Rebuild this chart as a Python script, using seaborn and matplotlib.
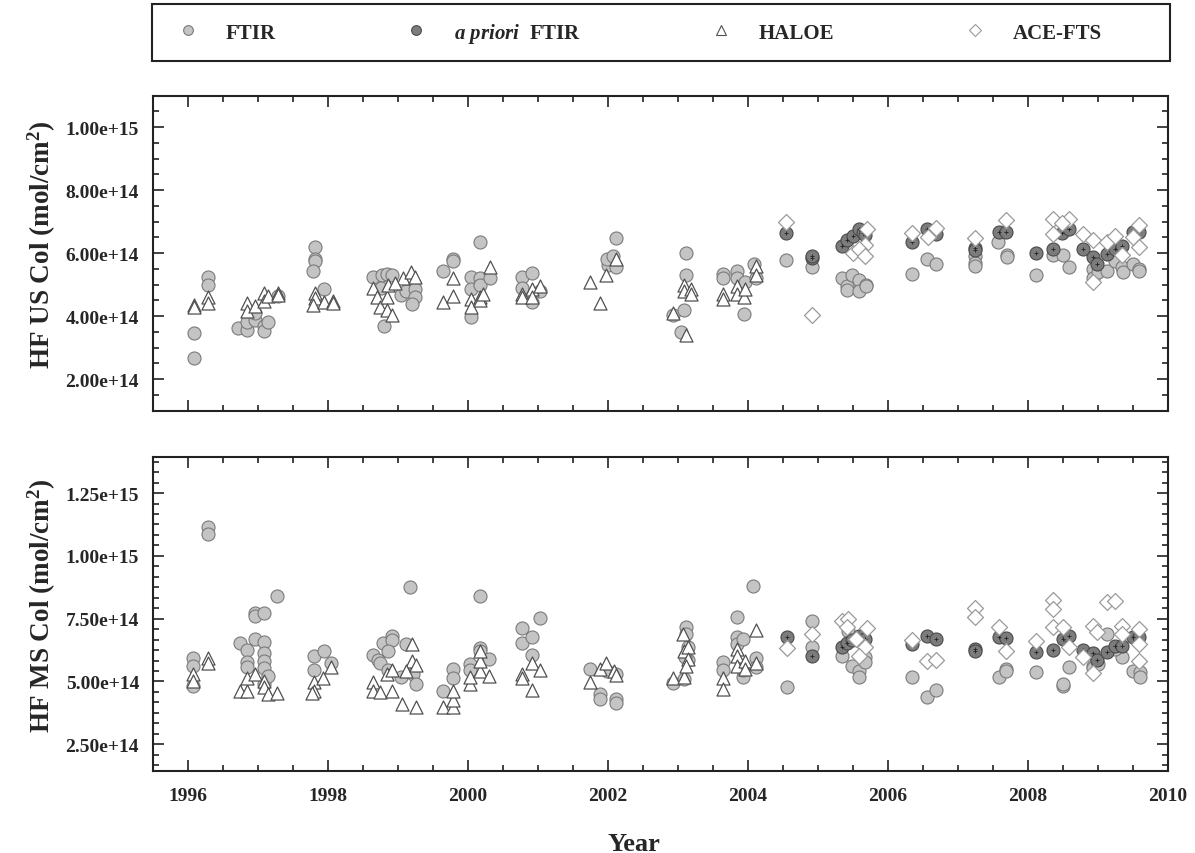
import numpy as np
import matplotlib
matplotlib.use("Agg")
import matplotlib.pyplot as plt
import seaborn as sns
from matplotlib.ticker import FixedLocator, MultipleLocator, FuncFormatter
from matplotlib.lines import Line2D
from matplotlib.patches import Rectangle

# ---------------- data (values in 1e14 molec/cm2) ----------------
# Upper stratosphere (US) panel
us_ftir_x = [1996.08, 1996.08, 1996.29, 1996.29, 1996.72, 1996.84, 1996.84, 1996.96, 1996.96,
             1997.08, 1997.08, 1997.15, 1997.29, 1997.82, 1997.82, 1997.82, 1997.79, 1997.94,
             1998.65, 1998.77, 1998.84, 1998.92, 1998.76, 1998.80, 1999.04, 1999.12, 1999.24,
             1999.24, 1999.20, 1999.64, 1999.78, 1999.78, 2000.04, 2000.04, 2000.04, 2000.17,
             2000.17, 2000.17, 2000.31, 2000.77, 2000.77, 2000.91, 2000.91, 2001.03, 2002.00,
             2001.98, 2002.07, 2002.12, 2002.12, 2002.93, 2003.09, 2003.05, 2003.11, 2003.11,
             2003.65, 2003.65, 2003.84, 2003.84, 2003.96, 2003.94, 2004.08, 2004.11, 2004.55,
             2004.92, 2005.34, 2005.41, 2005.41, 2005.48, 2005.58, 2005.58, 2005.69, 2005.69,
             2006.34, 2006.56, 2006.69, 2007.25, 2007.25, 2007.25, 2007.57, 2007.70, 2007.70,
             2008.12, 2008.36, 2008.50, 2008.58, 2008.93, 2008.93, 2009.00, 2009.13, 2009.24,
             2009.34, 2009.36, 2009.50, 2009.59, 2009.59]
us_ftir_y = [3.47, 2.66, 5.23, 4.98, 3.63, 3.56, 3.81, 3.89, 4.10,
             3.68, 3.53, 3.81, 4.65, 6.19, 5.82, 5.74, 5.42, 4.86,
             5.26, 5.30, 5.35, 5.30, 4.90, 3.70, 4.68, 4.80, 4.86,
             4.60, 4.40, 5.45, 5.80, 5.75, 5.23, 4.87, 3.98, 6.37,
             5.20, 5.00, 5.20, 5.26, 4.90, 5.37, 4.44, 4.80, 5.63,
             5.80, 5.90, 6.47, 5.55, 4.05, 4.20, 3.50, 6.00, 5.30,
             5.35, 5.20, 5.45, 5.20, 5.10, 4.08, 5.65, 5.20, 5.79,
             5.55, 5.21, 4.95, 4.84, 5.32, 5.16, 4.79, 5.00, 4.95,
             5.35, 5.80, 5.65, 5.90, 5.70, 5.60, 6.35, 5.93, 5.88,
             5.31, 5.95, 5.95, 5.57, 5.50, 5.20, 5.40, 5.44, 5.75,
             5.55, 5.40, 5.65, 5.50, 5.45]
us_apriori_x = [2004.55, 2004.92, 2004.92, 2005.34, 2005.41, 2005.50, 2005.58, 2005.65, 2005.67,
                2006.34, 2006.56, 2006.69, 2007.25, 2007.25, 2007.58, 2007.69, 2008.12, 2008.36,
                2008.48, 2008.58, 2008.79, 2008.93, 2008.98, 2009.13, 2009.24, 2009.34, 2009.50,
                2009.58]
us_apriori_y = [6.63, 5.85, 5.90, 6.23, 6.42, 6.55, 6.76, 6.65, 6.58,
                6.34, 6.76, 6.60, 6.15, 6.10, 6.68, 6.68, 6.02, 6.14,
                6.65, 6.78, 6.12, 5.88, 5.67, 5.97, 6.13, 6.24, 6.68,
                6.68]
us_haloe_x = [1996.08, 1996.08, 1996.29, 1996.29, 1996.84, 1996.84, 1996.96, 1997.08, 1997.08,
              1997.15, 1997.29, 1997.29, 1997.82, 1997.82, 1997.79, 1997.94, 1998.07, 1998.07,
              1998.64, 1998.70, 1998.74, 1998.84, 1998.84, 1998.92, 1999.07, 1999.18, 1999.24,
              1998.86, 1998.96, 1999.64, 1999.78, 1999.78, 2000.04, 2000.04, 2000.17, 2000.17,
              2000.31, 2000.22, 2000.77, 2000.77, 2000.91, 2000.91, 2001.03, 2001.74, 2001.89,
              2001.97, 2002.12, 2002.93, 2003.11, 2003.08, 2003.08, 2003.19, 2003.19, 2003.65,
              2003.65, 2003.84, 2003.84, 2003.94, 2003.96, 2004.11, 2004.11]
us_haloe_y = [4.35, 4.30, 4.60, 4.43, 4.42, 4.16, 4.32, 4.74, 4.47,
              4.63, 4.74, 4.68, 4.74, 4.58, 4.34, 4.45, 4.47, 4.42,
              4.90, 4.60, 4.30, 4.60, 4.20, 4.05, 5.20, 5.40, 5.25,
              5.00, 5.05, 4.45, 4.65, 5.20, 4.55, 4.30, 4.60, 4.50,
              5.55, 4.70, 4.70, 4.60, 4.85, 4.60, 4.95, 5.10, 4.42,
              5.30, 5.80, 4.10, 3.40, 5.00, 4.80, 4.85, 4.70, 4.70,
              4.55, 4.95, 4.70, 4.60, 4.85, 5.60, 5.30]
us_ace_x = [2004.55, 2004.92, 2005.70, 2005.67, 2005.50, 2005.58, 2005.67, 2006.34, 2006.69,
            2006.57, 2007.25, 2007.69, 2008.36, 2008.36, 2008.58, 2008.48, 2008.79, 2008.93,
            2008.93, 2009.13, 2009.24, 2009.34, 2009.58, 2009.58, 2009.50]
us_ace_y = [6.98, 4.05, 6.76, 6.26, 6.02, 6.13, 5.92, 6.63, 6.80,
            6.50, 6.47, 7.05, 7.07, 6.60, 7.10, 6.95, 6.60, 6.42,
            5.10, 6.34, 6.55, 5.94, 6.88, 6.20, 6.50]

# Middle stratosphere (MS) panel
ms_ftir_x = [1996.07, 1996.07, 1996.07, 1996.29, 1996.29, 1996.74, 1996.84, 1996.84, 1996.84,
             1996.96, 1996.96, 1996.96, 1997.08, 1997.08, 1997.08, 1997.08, 1997.08, 1997.08,
             1997.15, 1997.27, 1997.80, 1997.80, 1997.94, 1998.05, 1998.65, 1998.72, 1998.74,
             1998.79, 1998.92, 1998.92, 1998.86, 1998.86, 1999.05, 1999.12, 1999.17, 1999.22,
             1999.26, 1999.65, 1999.79, 1999.79, 2000.03, 2000.03, 2000.17, 2000.17, 2000.17,
             2000.30, 2000.77, 2000.77, 2000.91, 2000.91, 2001.03, 2001.74, 2001.88, 2001.88,
             2001.98, 2002.11, 2002.11, 2002.11, 2002.93, 2003.09, 2003.11, 2003.12, 2003.15,
             2003.15, 2003.10, 2003.65, 2003.65, 2003.84, 2003.84, 2003.84, 2003.93, 2003.93,
             2003.93, 2004.07, 2004.11, 2004.11, 2004.56, 2004.92, 2004.92, 2005.34, 2005.43,
             2005.48, 2005.58, 2005.58, 2005.67, 2005.67, 2006.34, 2006.56, 2006.69, 2007.58,
             2007.69, 2007.69, 2008.12, 2008.50, 2008.50, 2008.58, 2008.93, 2008.93, 2009.00,
             2009.13, 2009.34, 2009.24, 2009.50, 2009.60, 2009.60]
ms_ftir_y = [5.94, 5.60, 4.83, 11.16, 10.87, 6.52, 6.25, 5.76, 5.56,
             7.71, 7.62, 6.69, 7.71, 6.56, 6.12, 5.83, 5.54, 4.90,
             5.23, 8.42, 6.03, 5.46, 6.23, 5.72, 6.06, 5.86, 5.72,
             6.52, 6.83, 6.65, 6.23, 5.46, 5.17, 6.49, 8.75, 5.30,
             4.90, 4.64, 5.50, 5.14, 5.70, 5.46, 6.33, 6.23, 8.42,
             5.90, 7.13, 6.52, 6.79, 6.07, 7.53, 5.50, 4.50, 4.30,
             5.43, 4.30, 4.13, 5.30, 4.93, 5.10, 7.16, 6.89, 6.36,
             5.85, 5.96, 5.76, 5.46, 7.55, 6.79, 6.49, 6.69, 5.19,
             5.45, 8.82, 5.94, 5.56, 4.79, 7.42, 6.36, 6.03, 7.02,
             5.63, 5.43, 5.17, 5.96, 5.76, 5.19, 4.37, 4.66, 5.19,
             5.50, 5.40, 5.37, 4.83, 4.90, 5.59, 5.63, 5.55, 5.70,
             6.89, 5.96, 6.29, 5.43, 5.37, 5.19]
ms_apriori_x = [2004.56, 2004.92, 2005.34, 2005.41, 2005.48, 2005.58, 2005.67, 2006.34, 2006.56,
                2006.69, 2007.25, 2007.25, 2007.58, 2007.69, 2008.12, 2008.36, 2008.50, 2008.59,
                2008.79, 2008.93, 2008.98, 2009.13, 2009.24, 2009.34, 2009.50, 2009.58]
ms_apriori_y = [6.76, 6.03, 6.39, 6.52, 6.65, 6.83, 6.69, 6.49, 6.83,
                6.69, 6.29, 6.22, 6.76, 6.73, 6.19, 6.26, 6.69, 6.83,
                6.26, 6.12, 5.86, 6.16, 6.43, 6.43, 6.79, 6.76]
ms_haloe_x = [1996.07, 1996.07, 1996.29, 1996.29, 1996.74, 1996.84, 1996.84, 1996.96, 1997.08,
              1997.08, 1997.15, 1997.27, 1997.80, 1997.80, 1997.77, 1997.93, 1998.05, 1998.64,
              1998.64, 1998.74, 1998.84, 1998.92, 1998.92, 1999.06, 1999.26, 1999.20, 1999.20,
              1999.12, 1999.26, 1999.65, 1999.78, 1999.78, 1999.78, 2000.03, 2000.03, 2000.17,
              2000.17, 2000.17, 2000.30, 2000.77, 2000.77, 2000.91, 2000.91, 2001.03, 2001.74,
              2001.88, 2001.97, 2002.08, 2002.12, 2002.93, 2003.08, 2003.08, 2003.07, 2003.15,
              2003.15, 2003.11, 2003.65, 2003.65, 2003.84, 2003.84, 2003.84, 2003.96, 2003.96,
              2004.11, 2004.11]
ms_haloe_y = [5.30, 5.03, 5.94, 5.72, 4.61, 4.61, 5.14, 5.30, 5.03,
              4.77, 4.50, 4.53, 4.97, 4.64, 4.53, 5.14, 5.56, 4.97,
              4.64, 4.57, 5.30, 4.64, 5.46, 4.10, 3.99, 6.49, 5.83,
              5.43, 5.67, 3.99, 3.97, 4.26, 4.64, 4.90, 5.17, 5.43,
              5.83, 6.20, 5.23, 5.30, 5.14, 5.72, 4.66, 5.46, 4.99,
              5.50, 5.72, 5.40, 5.27, 5.14, 5.19, 6.23, 6.89, 6.39,
              5.90, 5.63, 5.14, 4.70, 6.29, 6.03, 5.63, 5.83, 5.50,
              5.72, 7.05]
ms_ace_x = [2004.56, 2004.92, 2005.34, 2005.43, 2005.41, 2005.70, 2005.55, 2005.67, 2005.58,
            2006.34, 2006.56, 2006.69, 2007.25, 2007.25, 2007.58, 2007.69, 2008.12, 2008.36,
            2008.36, 2008.36, 2008.50, 2008.58, 2008.79, 2008.93, 2008.93, 2008.98, 2009.13,
            2009.24, 2009.34, 2009.34, 2009.58, 2009.58, 2009.58]
ms_ace_y = [6.33, 6.89, 7.42, 7.49, 7.16, 7.13, 6.69, 6.36, 6.03,
            6.65, 5.83, 5.86, 7.93, 7.58, 7.16, 6.23, 6.60, 8.24,
            7.89, 7.18, 7.18, 6.39, 5.96, 7.22, 5.33, 6.96, 8.15,
            8.22, 7.22, 6.89, 7.09, 6.49, 5.80]

legend_labels = ["FTIR", r"$\mathit{a\ priori}$  FTIR", "HALOE", "ACE-FTS"]
us_yticks = [2e14, 4e14, 6e14, 8e14, 1e15]
ms_yticks = [2.5e14, 5e14, 7.5e14, 1e15, 1.25e15]
xticks = [1996, 1998, 2000, 2002, 2004, 2006, 2008, 2010]

# ---------------- style ----------------
sns.set_style("ticks")
plt.rcParams['font.family'] = ['Liberation Serif', 'DejaVu Serif']
plt.rcParams['font.weight'] = 'bold'
plt.rcParams['mathtext.fontset'] = 'custom'
plt.rcParams['mathtext.rm'] = 'Liberation Serif'
plt.rcParams['mathtext.it'] = 'Liberation Serif:italic'
plt.rcParams['mathtext.bf'] = 'Liberation Serif:bold'

FTIR_FC, FTIR_EC = '#c4c4c4', '#7a7a7a'
APR_FC, APR_EC = '#7c7c7c', '#4a4a4a'
HAL_EC = '#505050'
ACE_EC = '#9a9a9a'
S = 88

fig = plt.figure(figsize=(11.95, 8.54), dpi=100)
ax1 = fig.add_axes([0.128, 0.5179, 0.8494, 0.3689])
ax2 = fig.add_axes([0.128, 0.0964, 0.8494, 0.3677])


def draw(ax, fx, fy, ax_, ay, hx, hy, cx, cy):
    sc = 1e14
    sns.scatterplot(x=fx, y=np.array(fy) * sc, ax=ax, marker='o', s=S,
                    color=FTIR_FC, edgecolor=FTIR_EC, linewidth=0.8, zorder=2)
    sns.scatterplot(x=ax_, y=np.array(ay) * sc, ax=ax, marker='o', s=S,
                    color=APR_FC, edgecolor=APR_EC, linewidth=0.8, zorder=3)
    sns.scatterplot(x=ax_, y=np.array(ay) * sc, ax=ax, marker='+', s=10,
                    color='#222222', linewidth=0.6, zorder=3.1)
    sns.scatterplot(x=hx, y=np.array(hy) * sc, ax=ax, marker='^', s=S,
                    color='white', edgecolor=HAL_EC, linewidth=0.9, zorder=4)
    sns.scatterplot(x=cx, y=np.array(cy) * sc, ax=ax, marker='D', s=S * 0.75,
                    color='white', edgecolor=ACE_EC, linewidth=0.9, zorder=5)


draw(ax1, us_ftir_x, us_ftir_y, us_apriori_x, us_apriori_y,
     us_haloe_x, us_haloe_y, us_ace_x, us_ace_y)
draw(ax2, ms_ftir_x, ms_ftir_y, ms_apriori_x, ms_apriori_y,
     ms_haloe_x, ms_haloe_y, ms_ace_x, ms_ace_y)

fmt = FuncFormatter(lambda v, p: f"{v:.2e}")
for ax, yt, ylim, minor in [(ax1, us_yticks, (1.0e14, 1.1e15), 0.5e14),
                            (ax2, ms_yticks, (1.45e14, 1.395e15), 2.5e14 / 6)]:
    ax.set_xlim(1995.5, 2010)
    ax.set_ylim(*ylim)
    ax.xaxis.set_major_locator(FixedLocator(xticks))
    ax.xaxis.set_minor_locator(MultipleLocator(0.5))
    ax.yaxis.set_major_locator(FixedLocator(yt))
    ax.yaxis.set_minor_locator(MultipleLocator(minor))
    ax.yaxis.set_major_formatter(fmt)
    ax.tick_params(which='both', direction='in', top=True, right=True,
                   color='#222222', width=1.2)
    ax.tick_params(which='major', length=8, labelsize=14, pad=10)
    ax.tick_params(axis='x', which='major', pad=12)
    ax.tick_params(which='minor', length=4)
    for sp in ax.spines.values():
        sp.set_linewidth(1.5)
        sp.set_color('#222222')
    for lab in ax.get_xticklabels() + ax.get_yticklabels():
        lab.set_fontweight('bold')

ax1.tick_params(labelbottom=False)
ax1.set_xlabel('')
ax1.set_ylabel(r"HF US Col (mol/cm$^\mathbf{2}$)", fontsize=19.5, fontweight='bold')
ax2.set_ylabel(r"HF MS Col (mol/cm$^\mathbf{2}$)", fontsize=19.5, fontweight='bold')
ax2.set_xlabel("Year", fontsize=19, fontweight='bold')
ax1.yaxis.set_label_coords(-0.094, 0.53)
ax2.yaxis.set_label_coords(-0.094, 0.53)
ax2.xaxis.set_label_coords(0.474, -0.195)

# legend box (frame drawn separately so it spans the plot width)
fig.patches.append(Rectangle((0.1272, 0.9274), 0.852, 0.0667, transform=fig.transFigure,
                             fill=False, lw=1.5, ec='#222222', zorder=10))
handles = [
    Line2D([], [], ls='', marker='o', ms=7, mfc=FTIR_FC, mec=FTIR_EC, mew=0.8),
    Line2D([], [], ls='', marker='o', ms=7, mfc=APR_FC, mec=APR_EC, mew=0.8),
    Line2D([], [], ls='', marker='^', ms=7, mfc='white', mec=HAL_EC, mew=0.8),
    Line2D([], [], ls='', marker='D', ms=6, mfc='white', mec=ACE_EC, mew=0.8),
]
leg = fig.legend(handles, legend_labels, loc='center left',
                 bbox_to_anchor=(0.1443, 0.9607), borderaxespad=0.0,
                 ncol=4, frameon=False, borderpad=0.0, columnspacing=6.0,
                 handlelength=1.5, handletextpad=1.05,
                 prop=dict(size=15, weight='bold'))

fig.savefig("out.png", dpi=100)
